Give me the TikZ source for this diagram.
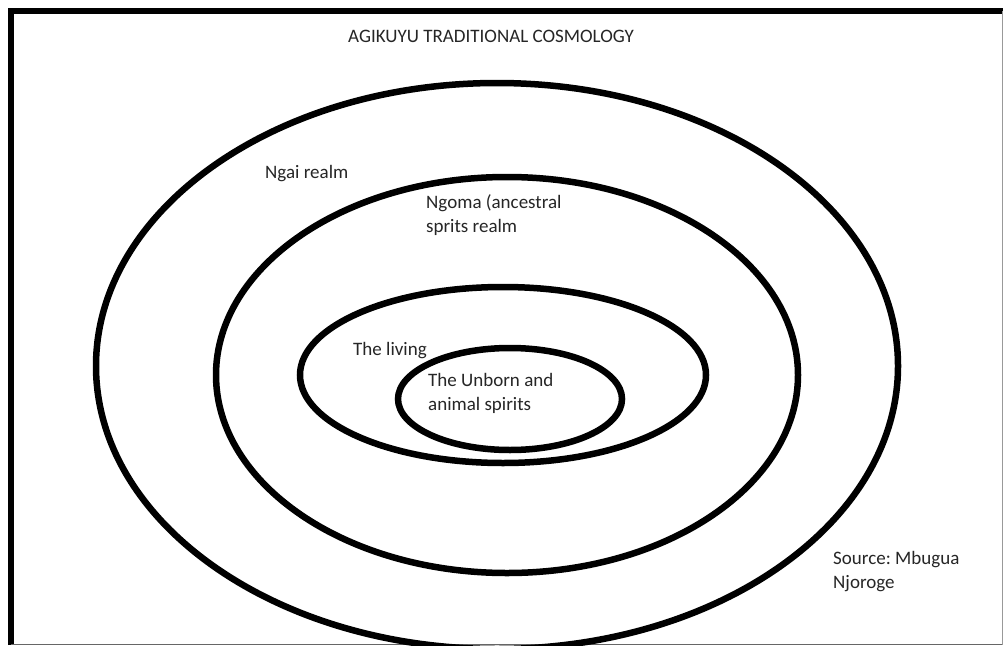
\documentclass[tikz,border=0pt]{standalone}
\usepackage{fontspec}
\setmainfont{Carlito}
\frenchspacing
\begin{document}
\begin{tikzpicture}[x=1pt,y=-1pt,
  ring/.style={line width=6.5pt,black},
  lbl/.style={anchor=base west,inner sep=0pt,text=black!85,font=\fontsize{19}{24}\selectfont,align=left}]
\useasboundingbox (0,0) rectangle (1003,645);
\clip (0,0) rectangle (1003,645);
\fill[white] (0,0) rectangle (1003,645);
% frame
\draw[line width=6pt] (11,645) -- (11,11) -- (1003,11);
\draw[line width=1.2pt,black!60] (11,644.4) -- (1003,644.4);
\draw[line width=1pt,black!40] (1002.5,11) -- (1002.5,645);
% rings
\draw[ring] (497,366) ellipse [x radius=401, y radius=283];
\draw[ring] (507,375) ellipse [x radius=291, y radius=198];
\draw[ring] (503,375) ellipse [x radius=203, y radius=88];
\draw[ring] (510,399) ellipse [x radius=112, y radius=51];
% labels
\node[lbl] (title) at (348,42) {AGIKUYU TRADITIONAL COSMOLOGY};
\node[lbl] (ngai) at (265,178) {Ngai realm};
\node[lbl] (ngoma) at (426,232) {Ngoma (ancestral\\sprits realm};
\node[lbl] (living) at (353,355) {The living};
\node[lbl] (unborn) at (428,410) {The Unborn and\\animal spirits};
\node[lbl] (src) at (833,588) {Source: Mbugua\\Njoroge};
\end{tikzpicture}
\end{document}
